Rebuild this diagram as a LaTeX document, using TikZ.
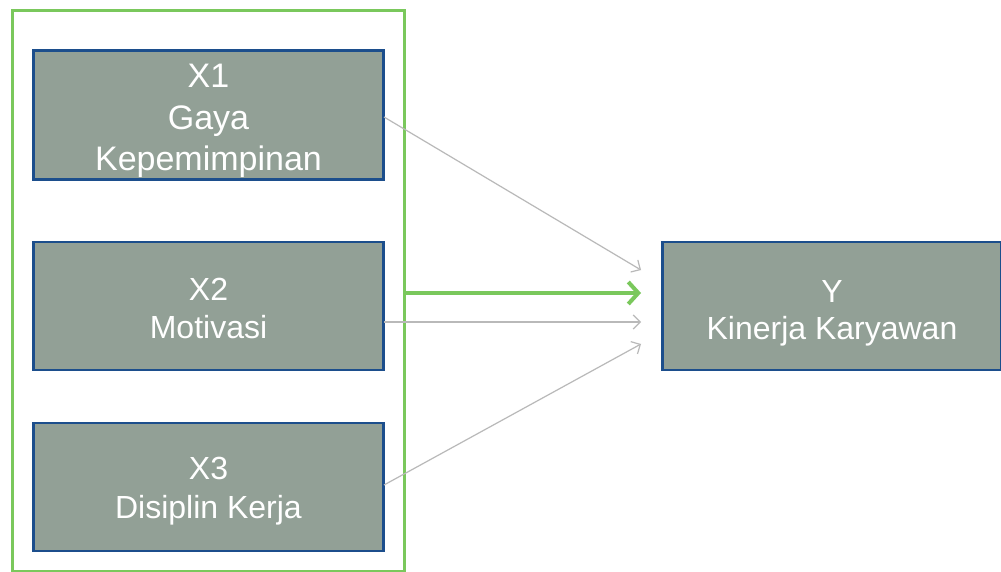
\documentclass[tikz,border=0pt]{standalone}
\usepackage{fontspec}
\setmainfont{Liberation Sans}
\usetikzlibrary{arrows.meta}
\definecolor{boxfill}{RGB}{146,160,150}
\definecolor{boxline}{RGB}{28,78,140}
\definecolor{frameg}{RGB}{122,200,92}
\definecolor{arrg}{RGB}{185,185,185}
\newcommand{\tstrut}[1]{\rule{0pt}{#1}}
\tikzset{
  varbox/.style={draw=boxline, line width=2.6pt, fill=boxfill, text=white,
    align=center, inner sep=0pt, font=\fontsize{32}{38}\selectfont},
  bigtext/.style={font=\fontsize{34}{41.5}\selectfont},
  thinarr/.style={draw=arrg, line width=1.2pt, -{Straight Barb[length=7pt,width=14pt]}},
  greenarr/.style={draw=frameg, line width=4pt, -{Straight Barb[length=10pt,width=22pt]}}
}
\begin{document}
\begin{tikzpicture}[x=1pt,y=-1pt]
\useasboundingbox (0,0) rectangle (1001,572);
\fill[white] (0,0) rectangle (1001,572);
\draw[frameg, line width=3pt] (12,11) rectangle (404,571);
\node[varbox, bigtext, minimum width=350pt, minimum height=129pt] (x1) at (208.5,115) {\tstrut{36pt}X1\\Gaya\\Kepemimpinan};
\node[varbox, minimum width=350pt, minimum height=128pt] (x2) at (208.5,306) {\tstrut{28pt}X2\\Motivasi};
\node[varbox, font=\fontsize{32}{39}\selectfont, minimum width=350pt, minimum height=128pt] (x3) at (208.5,487) {\tstrut{30pt}X3\\Disiplin Kerja};
\node[varbox, font=\fontsize{32}{37}\selectfont, minimum width=339pt, minimum height=128pt] (y) at (832,306) {\tstrut{36pt}Y\\Kinerja Karyawan};
\coordinate (s1) at (384,117);
\coordinate (s2g) at (404,293);
\coordinate (s2) at (384,322);
\coordinate (s3) at (384,485);
\coordinate (t1) at (641,270);
\coordinate (t2g) at (641,293);
\coordinate (t2) at (641,322);
\coordinate (t3) at (641,344);
\draw[thinarr] (s1) -- (t1);
\draw[greenarr] (s2g) -- (t2g);
\draw[thinarr] (s2) -- (t2);
\draw[thinarr] (s3) -- (t3);
\end{tikzpicture}
\end{document}
